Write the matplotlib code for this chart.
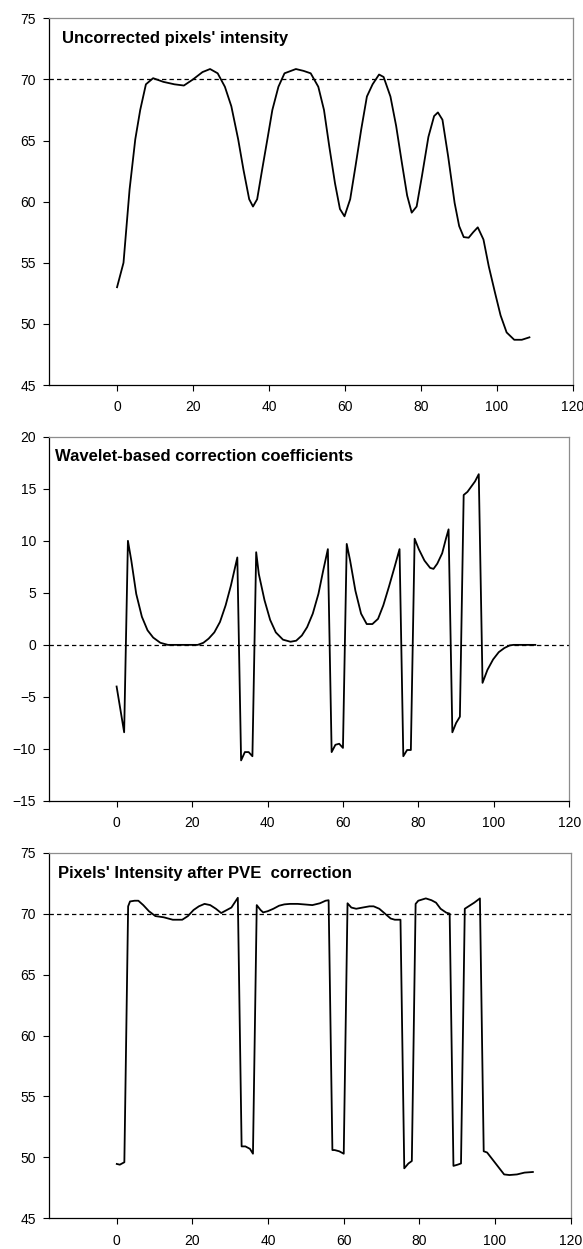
import matplotlib
matplotlib.use("Agg")
import matplotlib.pyplot as plt

plt.rcParams['font.family'] = ['Liberation Sans', 'DejaVu Sans']

# ---- Panel 1: uncorrected intensity ----
x1 = [0, 1.7, 3.3, 4.8, 6.1, 7.6, 9.5, 12.2, 15.1, 17.6, 20, 22.5, 24.5, 26.5, 28.4,
      30.1, 31.9, 33.3, 34.8, 35.8, 36.9, 38.2, 39.7, 40.9, 42.5, 44.1, 47.1, 49.1,
      51.0, 53.0, 54.5, 55.9, 57.4, 58.7, 59.9, 61.4, 62.8, 64.3, 65.8, 67.3, 69.0,
      70.2, 72.0, 73.5, 75.0, 76.4, 77.6, 78.9, 80.3, 82.0, 83.5, 84.5, 85.7, 87.2,
      88.9, 90.1, 91.3, 92.6, 93.8, 95.0, 96.5, 97.9, 99.5, 101.0, 102.6, 104.6,
      106.6, 108.6]
y1 = [53.0, 55.0, 61.0, 65.1, 67.5, 69.6, 70.1, 69.8, 69.6, 69.5, 70.0, 70.6, 70.85,
      70.5, 69.4, 67.8, 65.1, 62.6, 60.2, 59.6, 60.2, 62.6, 65.3, 67.5, 69.4, 70.5,
      70.85, 70.7, 70.5, 69.4, 67.5, 64.5, 61.5, 59.4, 58.8, 60.2, 62.9, 65.9, 68.6,
      69.6, 70.4, 70.2, 68.6, 66.2, 63.2, 60.5, 59.1, 59.6, 62.1, 65.3, 67.0, 67.3,
      66.7, 63.7, 59.9, 58.0, 57.1, 57.05, 57.5, 57.9, 56.9, 54.7, 52.6, 50.7, 49.3,
      48.7, 48.7, 48.9]

# ---- Panel 2: wavelet-based correction coefficients ----
x2 = [0, 2, 3, 3.9, 5.2, 6.7, 8.2, 9.7, 11.6, 13.6, 21.5, 23, 24.4, 25.9, 27.4, 28.9,
      30.3, 32, 33, 34, 35, 36, 37, 37.7, 39.2, 40.7, 42.2, 44.1, 46.1, 47.6, 49.1,
      50.5, 52.0, 53.5, 54.8, 56, 57, 58, 59, 60, 61, 61.9, 63.3, 64.8, 66.3, 67.8,
      69.3, 70.7, 72.2, 73.7, 75, 76, 77, 78, 79, 80.1, 81.6, 83.1, 84.0, 85.0, 86.3,
      87.3, 88, 89, 90, 91, 92, 93, 94, 95, 96, 97, 98.3, 99.8, 101.3, 102.8, 104.2,
      105.2, 111]
y2 = [-4.0, -8.4, 10.0, 8.1, 4.9, 2.7, 1.4, 0.7, 0.2, 0.0, 0.0, 0.2, 0.6, 1.2, 2.2, 3.8,
      5.7, 8.4, -11.1, -10.3, -10.3, -10.7, 8.9, 6.8, 4.3, 2.4, 1.2, 0.5, 0.3, 0.4, 0.9,
      1.7, 3.0, 4.9, 7.2, 9.2, -10.3, -9.6, -9.5, -9.9, 9.7, 8.1, 5.2, 3.0, 2.0, 2.0,
      2.5, 3.8, 5.6, 7.5, 9.2, -10.7, -10.1, -10.1, 10.2, 9.2, 8.1, 7.4, 7.3, 7.8, 8.8,
      10.2, 11.1, -8.4, -7.5, -6.9, 14.4, 14.7, 15.2, 15.7, 16.4, -3.65, -2.4, -1.4,
      -0.7, -0.3, -0.05, 0.0, 0.0]

# ---- Panel 3: intensity after PVE correction ----
x3 = [0, 0.8, 2, 3, 3.5, 4.7, 5.7, 7.0, 8.5, 10.2, 12.4, 14.8, 17.3, 18.8, 20.3, 21.7,
      23.2, 24.7, 26.2, 27.6, 29.1, 30.3, 32, 33, 34.0, 35.2, 36, 37, 38.0, 38.7, 39.9,
      41.4, 42.9, 44.3, 45.8, 47.8, 49.8, 51.7, 53.7, 55.2, 56, 57, 57.6, 58.8, 60,
      61, 62.0, 63.3, 65.0, 66.8, 67.9, 69.4, 70.9, 72.4, 73.5, 75, 76, 77.1, 78, 79,
      79.7, 81.7, 83.2, 84.4, 85.6, 87.1, 88, 89, 90.1, 91, 92, 93.0, 94.5, 96, 97,
      97.9, 99.4, 100.9, 102.4, 103.8, 105.8, 107.8, 110.0]
y3 = [49.46, 49.4, 49.6, 70.6, 71.0, 71.06, 71.06, 70.7, 70.2, 69.8, 69.7, 69.5, 69.5,
      69.8, 70.3, 70.6, 70.8, 70.7, 70.4, 70.05, 70.3, 70.5, 71.3, 50.9, 50.9, 50.7,
      50.3, 70.7, 70.3, 70.1, 70.2, 70.4, 70.65, 70.76, 70.8, 70.8, 70.75, 70.7, 70.85,
      71.06, 71.1, 50.6, 50.6, 50.5, 50.3, 70.85, 70.5, 70.4, 70.5, 70.6, 70.6, 70.4,
      70.0, 69.6, 69.5, 69.5, 49.1, 49.5, 49.7, 70.8, 71.06, 71.25, 71.1, 70.9, 70.4,
      70.08, 70.0, 49.3, 49.4, 49.5, 70.4, 70.6, 70.9, 71.25, 50.5, 50.4, 49.8, 49.2,
      48.6, 48.55, 48.6, 48.75, 48.8]

titles = ["Uncorrected pixels' intensity",
          "Wavelet-based correction coefficients",
          "Pixels' Intensity after PVE  correction"]
xticks = [0, 20, 40, 60, 80, 100, 120]
yticks1 = [45, 50, 55, 60, 65, 70, 75]
yticks2 = [-15, -10, -5, 0, 5, 10, 15, 20]
yticks3 = [45, 50, 55, 60, 65, 70, 75]
ref_lines = [70, 0, 70]

W, H = 583, 1249
fig = plt.figure(figsize=(W / 100, H / 100), dpi=100)

def rect(l, r, t, b):
    return [l / W, 1 - b / H, (r - l) / W, (b - t) / H]

axes_rects = [rect(48.7, 572.7, 18.3, 385.0),
              rect(48.7, 569.3, 436.7, 801.0),
              rect(48.7, 570.7, 852.7, 1218.3)]
# title placement (pixel offset from the axes' top-left corner: x, baseline)
title_offsets = [(13, 24.4), (6, 24.0), (9, 25.0)]

data = [(x1, y1, yticks1), (x2, y2, yticks2), (x3, y3, yticks3)]

for i, (r, (xs, ys, yt)) in enumerate(zip(axes_rects, data)):
    ax = fig.add_axes(r)
    ax.plot(xs, ys, color='black', lw=1.3, solid_joinstyle='round')
    ax.axhline(ref_lines[i], color='black', lw=0.9, linestyle=(0, (3.5, 2.5)))
    ax.set_xlim(-18, 120)
    ax.set_ylim(yt[0], yt[-1])
    ax.set_xticks(xticks)
    ax.set_yticks(yt)
    ax.tick_params(direction='out', length=4, width=0.8, labelsize=10, colors='black')
    ax.tick_params(axis='x', pad=7)
    ax.tick_params(axis='y', pad=5)
    for s in ['left', 'bottom']:
        ax.spines[s].set_color('black')
        ax.spines[s].set_linewidth(0.9)
    for s in ['top', 'right']:
        ax.spines[s].set_color('#8c8c8c')
        ax.spines[s].set_linewidth(0.9)
    wpx = r[2] * W
    hpx = r[3] * H
    ox, oy = title_offsets[i]
    ax.text(ox / wpx, 1 - oy / hpx, titles[i], transform=ax.transAxes, fontsize=12,
            fontweight='bold', ha='left', va='baseline')

fig.savefig("out.png", dpi=100)
